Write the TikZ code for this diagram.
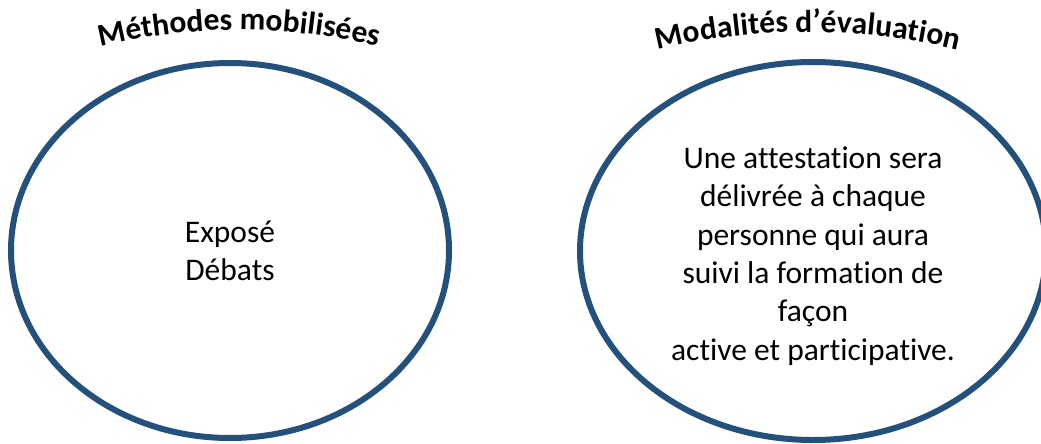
\documentclass[tikz,border=0pt]{standalone}
\usepackage{fontspec}
\setmainfont{Carlito}[Ligatures={NoCommon,NoContextual}]
\usetikzlibrary{shapes.geometric,decorations.text}
\definecolor{ringblue}{RGB}{36,80,124}
\begin{document}
\begin{tikzpicture}[x=1pt,y=-1pt,
  ring/.style={ellipse, draw=ringblue, line width=6pt, inner sep=0pt},
  body/.style={align=center, font=\fontsize{31.5}{38.4}\selectfont},
  title/.style={decorate, decoration={text along path, text align=center, text={|\bfseries\fontsize{31.5}{33}\selectfont|#1}}}]
\useasboundingbox (0,0) rectangle (1041,444);
\node[ring, minimum width=438pt, minimum height=375pt] (left) at (230,250.5) {};
\node[ring, minimum width=466pt, minimum height=378pt] (right) at (813,251) {};
\node[body] (lefttext) at (230,251) {Exposé\\Débats};
\node[body] (righttext) at (813,256) {Une attestation sera\\délivrée à chaque\\personne qui aura\\suivi la formation de\\façon\\active et participative.};
\path[title={Méthodes mobilisées}] (35.8,65.8) arc[start angle=110, end angle=70, radius=594pt];
\path[title={Modalités d’évaluation}] (589.4,70.5) arc[start angle=110, end angle=70, radius=639pt];
\end{tikzpicture}
\end{document}
